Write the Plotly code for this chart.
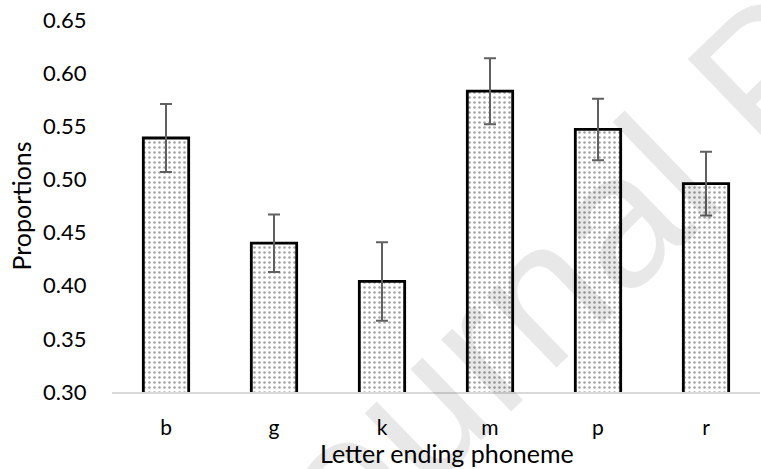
import plotly.graph_objects as go

categories = ["b", "g", "k", "m", "p", "r"]
proportions = [0.539, 0.440, 0.404, 0.583, 0.547, 0.496]
errors = [0.032, 0.027, 0.037, 0.031, 0.029, 0.030]
y_ticks = [0.30, 0.35, 0.40, 0.45, 0.50, 0.55, 0.60, 0.65]

FONT = "Lato"

fig = go.Figure()
fig.add_trace(go.Bar(
    x=categories,
    y=proportions,
    width=0.42,
    marker=dict(
        color="white",
        line=dict(color="black", width=2.8),
        pattern=dict(shape=".", fgcolor="#444444", bgcolor="white", size=5, solidity=0.2),
    ),
    error_y=dict(type="data", array=errors, visible=True, color="#606060", thickness=2, width=6),
))

fig.add_annotation(
    text="Journal Pre-proof", xref="paper", yref="paper", x=1.005, y=0.85,
    xanchor="center", yanchor="middle", textangle=-44, showarrow=False,
    font=dict(family="Liberation Sans", size=190, color="rgba(0,0,0,0.09)"),
)

fig.add_annotation(
    text="Letter ending phoneme", xref="paper", yref="paper", x=0.517, y=-0.164,
    xanchor="center", yanchor="middle", showarrow=False,
    font=dict(family=FONT, size=25, color="black"),
)

fig.update_layout(
    width=761, height=469,
    margin=dict(l=112, r=1, t=20, b=77),
    paper_bgcolor="white", plot_bgcolor="white",
    font=dict(family=FONT, size=22, color="black"),
    showlegend=False,
    bargap=0.58,
)
fig.update_xaxes(
    showline=True, linecolor="#d9d9d9", linewidth=1.5,
    showgrid=False, ticks="outside", ticklen=16, tickcolor="rgba(0,0,0,0)",
    tickfont=dict(family=FONT, size=21),
)
fig.update_yaxes(
    range=[0.30, 0.65], tickvals=y_ticks, tickformat=".2f",
    tickfont=dict(family=FONT, size=22),
    showgrid=False, showline=False, zeroline=False,
    ticks="outside", ticklen=20, tickcolor="rgba(0,0,0,0)",
    title=dict(text="Proportions", font=dict(family=FONT, size=25), standoff=4),
)

fig.write_html("out.html")
